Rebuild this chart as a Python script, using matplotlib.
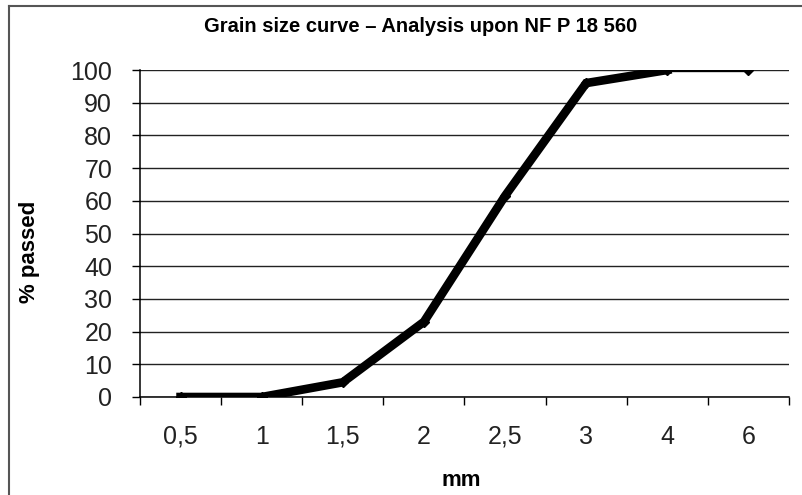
import matplotlib.pyplot as plt
from matplotlib.lines import Line2D

plt.rcParams['font.family'] = ['Liberation Sans', 'DejaVu Sans']

sizes = ["0,5", "1", "1,5", "2", "2,5", "3", "4", "6"]
passed = [0, 0, 4.5, 23, 61.5, 96, 100, 100]

fig = plt.figure(figsize=(8.03, 4.95), dpi=100)
ax = fig.add_axes([140 / 803, 98 / 495, 649 / 803, 327 / 495])

x = list(range(len(sizes)))
# thick curve up to "4", thinner last segment
ax.plot(x[:7], passed[:7], color='black', lw=6.2, solid_joinstyle='miter', zorder=3)
ax.plot(x[6:], passed[6:], color='black', lw=2.4, zorder=3)
ax.plot(x, passed, linestyle='none', marker='D', ms=5, color='black', zorder=4)

ax.set_xlim(-0.5, len(sizes) - 0.5)
ax.set_ylim(0, 100)
ax.set_yticks(range(0, 101, 10))
ax.yaxis.grid(True, color='#222222', lw=1.0)
ax.set_axisbelow(True)

ax.set_xticks([i + 0.5 for i in range(-1, len(sizes))])
ax.set_xticklabels([])
ax.set_xticks(x, minor=True)
ax.set_xticklabels(sizes, minor=True)
ax.tick_params(axis='x', which='major', length=6, width=1, direction='out')
ax.tick_params(axis='x', which='minor', length=0, pad=20, labelsize=18, labelcolor='#222222')
ax.tick_params(axis='y', length=6, width=1, direction='out', labelsize=18, labelcolor='#222222', pad=14)

for s in ['top', 'right']:
    ax.spines[s].set_visible(False)
ax.spines['left'].set_linewidth(1.1)
ax.spines['bottom'].set_linewidth(1.1)

ax.set_xlabel("mm", fontsize=16, fontweight='bold', va='center')
ax.xaxis.set_label_coords(0.5 - 3 / 649, -0.254)
ax.set_ylabel("% passed", fontsize=16, fontweight='bold', va='center')
ax.yaxis.set_label_coords(-0.1695, 0.443)
fig.text(0.524, 1 - 27 / 495, "Grain size curve \u2013 Analysis upon NF P 18 560",
         ha='center', va='center', fontsize=14.5, fontweight='bold')

# outer chart frame (left and top edges visible)
fig.add_artist(Line2D([9.5 / 803, 9.5 / 803], [0, 1 - 6 / 495], transform=fig.transFigure,
                      color='#555555', lw=1.5))
fig.add_artist(Line2D([9.5 / 803, 1], [1 - 6 / 495, 1 - 6 / 495], transform=fig.transFigure,
                      color='#555555', lw=1.5))

fig.savefig("out.png", dpi=100)
